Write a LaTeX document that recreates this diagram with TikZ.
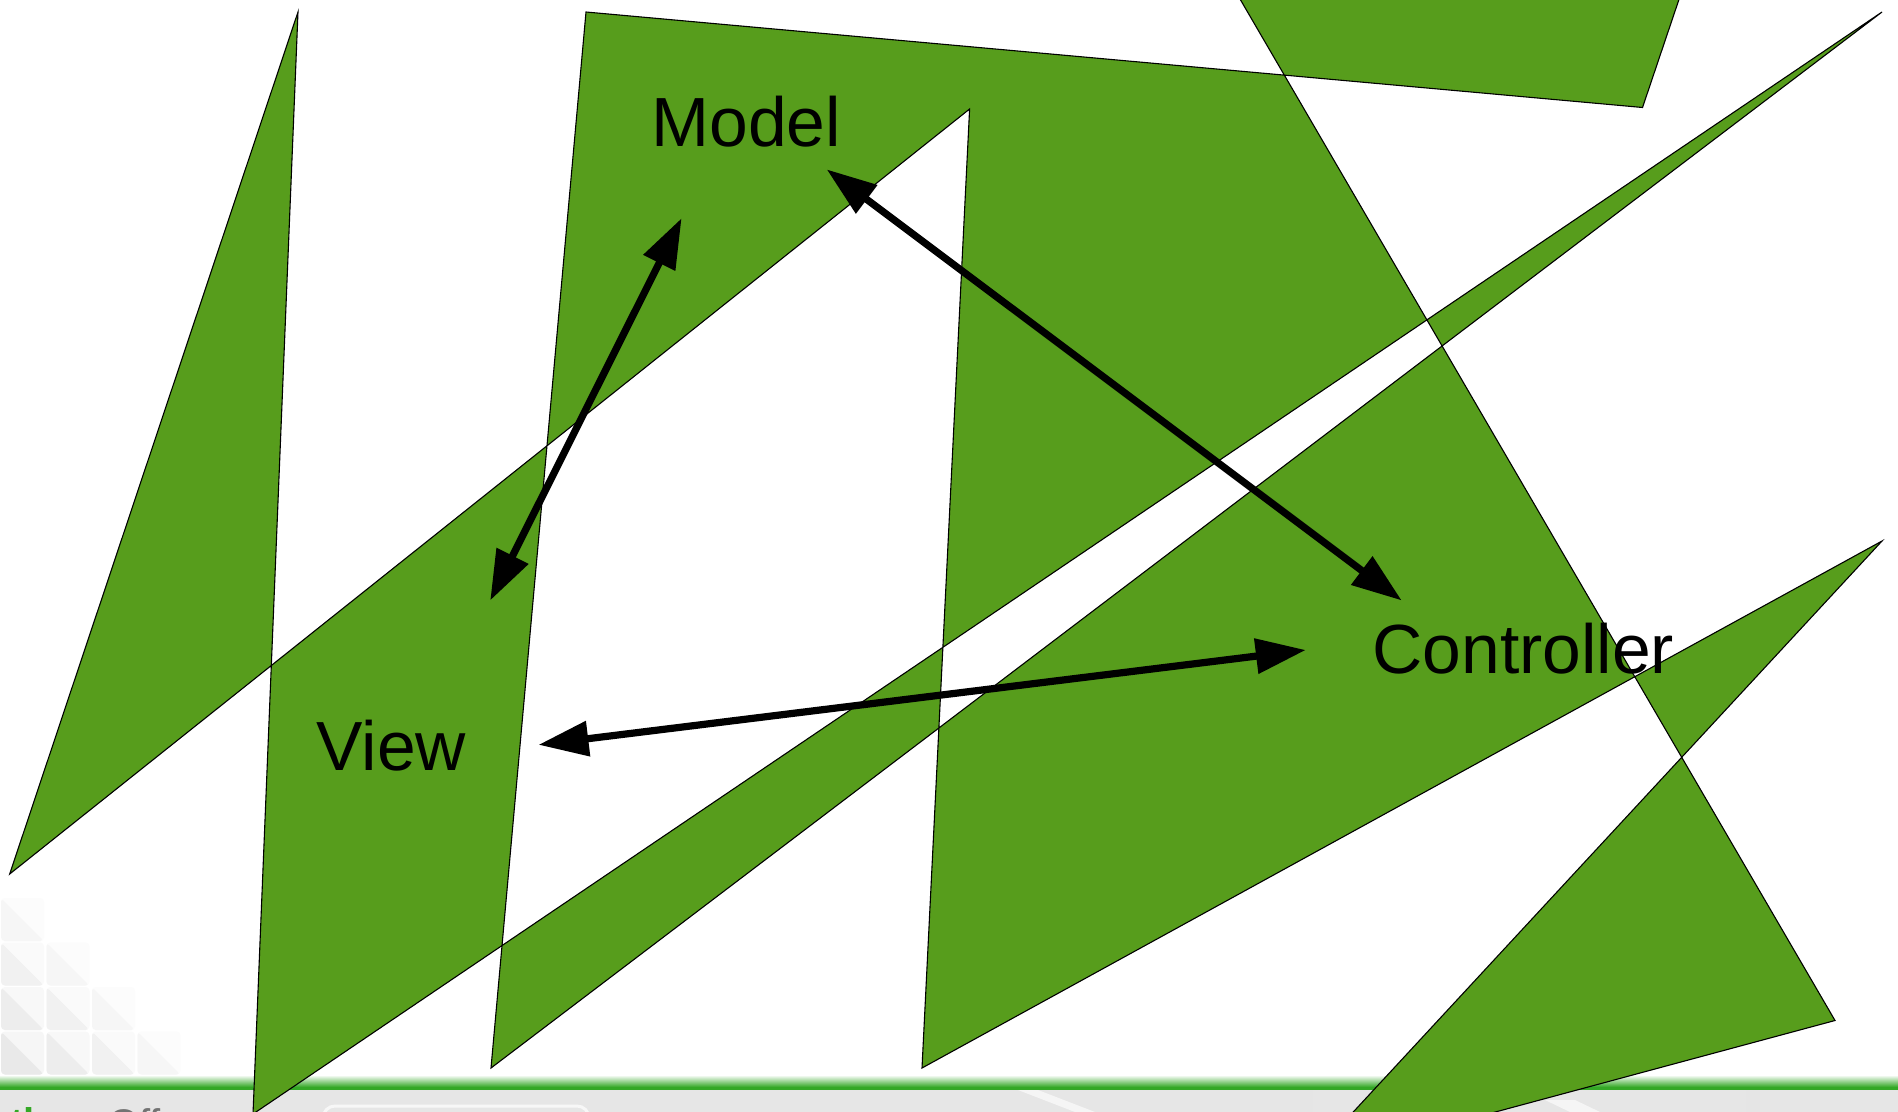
\documentclass[tikz,border=0pt]{standalone}
\usepackage{fontspec}
\setmainfont{Liberation Sans}
\usetikzlibrary{arrows.meta}
\definecolor{polygreen}{HTML}{579D1C}
\definecolor{bargreen}{RGB}{52,168,38}
\definecolor{bargrey}{HTML}{E6E6E6}
\tikzset{
  polyshape/.style={fill=polygreen, draw=black, line width=0.55pt, even odd rule, line join=miter},
  lbl/.style={inner sep=0pt, anchor=base west, font=\fontsize{34.8}{40}\selectfont, text=black},
  dbl/.style={line width=3.6pt, {Triangle[length=25pt,width=17pt]}-{Triangle[length=25pt,width=17pt]}},
  foottext/.style={inner sep=0pt, anchor=base west, font=\fontsize{20}{24}\selectfont}
}
\begin{document}
\begin{tikzpicture}[x=0.5pt,y=-0.5pt]
\useasboundingbox (0,0) rectangle (1898,1112);
\clip (0,0) rectangle (1898,1112);
\fill[white] (0,0) rectangle (1898,1112);
% faint decorative triangles bottom-left
\foreach \r in {0,1,2,3}{
  \foreach \c in {0,...,\r}{
    \pgfmathsetmacro{\lev}{max(1.5, 8.5-1.6*(\c+3-\r))}
    \pgfmathsetmacro{\levb}{max(0.8, 3.5-0.8*(\c+3-\r))}
    \pgfmathsetmacro{\xx}{1+45.5*\c}
    \pgfmathsetmacro{\yy}{898+44.5*\r}
    \fill[black!\levb, rounded corners=2pt] (\xx,\yy) rectangle ++(43,43);
    \fill[black!\lev, rounded corners=2pt] (\xx,\yy) -- ++(43,43) -- ++(-43,0) -- cycle;
  }
}
% bottom bar
\fill[bargrey] (0,1090) rectangle (1898,1112);
\shade[top color=white, bottom color=bargreen] (0,1075) rectangle (1898,1087);
\fill[bargreen] (0,1086.5) rectangle (1898,1090);
\fill[black!4] (1018,1090) -- (1038,1090) -- (1095,1112) -- (1075,1112) -- cycle;
\fill[black!4] (1545,1100) -- (1575,1100) -- (1600,1112) -- (1570,1112) -- cycle;
\draw[black!3, line width=1.5pt, rounded corners=6pt] (323,1118) -- (323,1106) -- (589,1106) -- (589,1118);
\fill[black!10] (1300,1090) rectangle (1313,1112);
\fill[black!10] (1746,1090) rectangle (1760,1112);
\node[foottext, text=bargreen, font=\fontsize{20}{24}\selectfont\bfseries] (ft1) at (10,1136) {the};
\node[foottext, text=black!55] (ft2) at (108,1137) {Off};
% the self-intersecting polygon
\coordinate (A) at (298,12);
\coordinate (B) at (9.7,874);
\coordinate (C) at (969.6,109);
\coordinate (D) at (922,1068);
\coordinate (E) at (1882,541);
\coordinate (F) at (1306,1163);
\coordinate (H) at (1835,1020.5);
\coordinate (I1) at (1205.6,-60);
\coordinate (I2) at (1699,-60);
\coordinate (J) at (1642.5,107.5);
\coordinate (K) at (586,12);
\coordinate (L) at (491,1068);
\coordinate (M) at (1882,12);
\coordinate (N) at (253,1114);
\filldraw[polyshape] (A) -- (B) -- (C) -- (D) -- (E) -- (F) -- (H) -- (I1) -- (I2) -- (J) -- (K) -- (L) -- (M) -- (N) -- cycle;
% labels
\node[lbl] (model) at (651,146.5) {Model};
\node[lbl] (view) at (316,770) {View};
\node[lbl] (controller) at (1372,673) {Controller};
% arrow ends
\coordinate (mv1) at (681.6,218.2);
\coordinate (mv2) at (490.2,600.5);
\coordinate (mc1) at (826.7,169.4);
\coordinate (mc2) at (1401.7,600.5);
\coordinate (vc1) at (538.5,744.8);
\coordinate (vc2) at (1305.8,650);
\draw[dbl] (mv2) -- (mv1);
\draw[dbl] (mc1) -- (mc2);
\draw[dbl] (vc1) -- (vc2);
\end{tikzpicture}
\end{document}
